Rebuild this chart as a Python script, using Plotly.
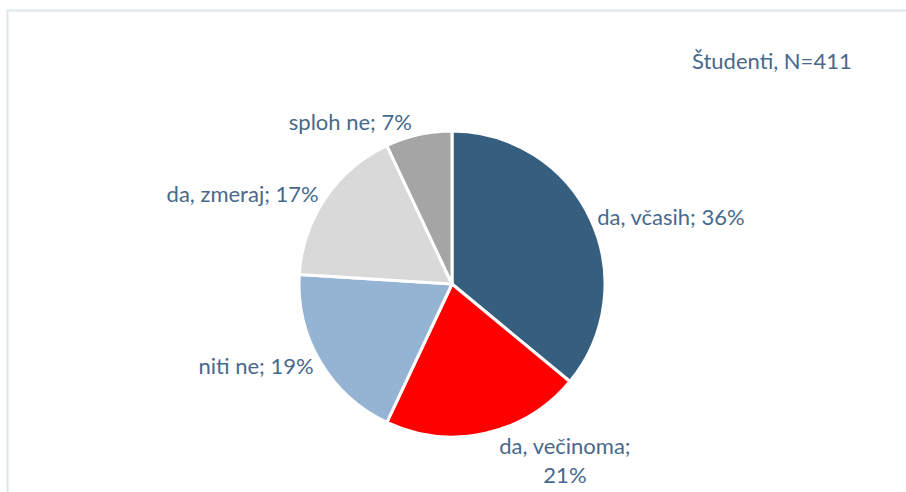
import plotly.graph_objects as go

labels = ["da, včasih", "da, večinoma", "niti ne", "da, zmeraj", "sploh ne"]
display_labels = ["da, včasih", "da, večinoma;<br>", "niti ne", "da, zmeraj", "sploh ne"]
values = [36, 21, 19, 17, 7]
colors = ["#365E7F", "#FF0000", "#95B3D3", "#D9D9D9", "#A5A5A5"]
title_text = "Študenti, N=411"

texts = []
for lab, v in zip(display_labels, values):
    if lab.endswith("<br>"):
        texts.append(f"{lab}{v}%")
    else:
        texts.append(f"{lab}; {v}%")

W, H = 906, 492
cx, cy, r = 452, 284, 153
FONT = dict(family="Lato", size=22, color="#47698C")

fig = go.Figure(go.Pie(
    labels=labels,
    values=values,
    text=texts,
    textinfo="text",
    textposition="outside",
    sort=False,
    direction="clockwise",
    rotation=0,
    marker=dict(colors=colors, line=dict(color="white", width=3)),
    textfont=FONT,
    outsidetextfont=FONT,
    showlegend=False,
    hoverinfo="label+percent",
    domain=dict(x=[(cx - r) / W, (cx + r) / W], y=[(H - cy - r) / H, (H - cy + r) / H]),
))

fig.update_layout(
    width=W, height=H,
    margin=dict(l=0, r=0, t=0, b=0),
    paper_bgcolor="white",
    plot_bgcolor="white",
    shapes=[dict(type="rect", xref="paper", yref="paper",
                 x0=7.5 / W, x1=1.02, y0=-0.05, y1=(H - 10.5) / H,
                 line=dict(color="#DCE6F1", width=2), fillcolor="rgba(0,0,0,0)")],
    annotations=[dict(text=title_text, xref="paper", yref="paper",
                      x=772 / W, y=(H - 60) / H, xanchor="center", yanchor="middle",
                      showarrow=False, font=FONT)],
)

fig.write_html("out.html", config={"displayModeBar": False},
               post_script=["document.body.style.margin='0';document.body.style.padding='0';"])
